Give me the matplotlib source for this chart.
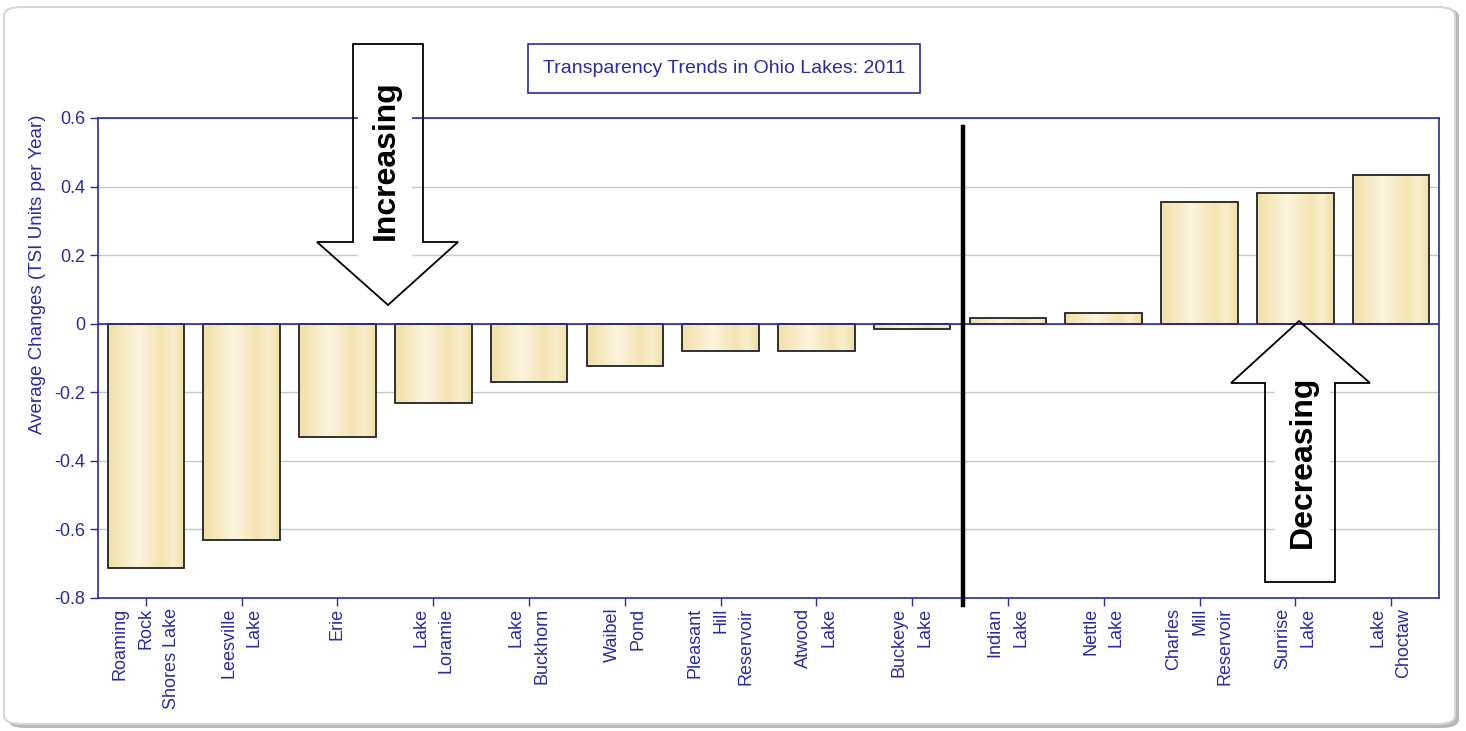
import numpy as np
import matplotlib
matplotlib.use("Agg")
import matplotlib.pyplot as plt
from matplotlib.patches import Polygon, Rectangle, FancyBboxPatch
from matplotlib.colors import LinearSegmentedColormap

plt.rcParams['font.family'] = ['Liberation Sans', 'DejaVu Sans']

# Data
lakes = ["Roaming\nRock\nShores Lake", "Leesville\nLake", "Erie", "Lake\nLoramie",
         "Lake\nBuckhorn", "Waibel\nPond", "Pleasant\nHill\nReservoir", "Atwood\nLake",
         "Buckeye\nLake", "Indian\nLake", "Nettle\nLake", "Charles\nMill\nReservoir",
         "Sunrise\nLake", "Lake\nChoctaw"]
values = [-0.712, -0.632, -0.33, -0.231, -0.17, -0.124, -0.08, -0.08,
          -0.015, 0.016, 0.032, 0.355, 0.382, 0.435]
yticks = [-0.8, -0.6, -0.4, -0.2, 0, 0.2, 0.4, 0.6]
ytick_labels = ["-0.8", "-0.6", "-0.4", "-0.2", "0", "0.2", "0.4", "0.6"]

W, H = 1466, 731
blue = '#2a2aa6'

def fx(x):
    return x / W

def fy(y):
    return 1 - y / H

fig = plt.figure(figsize=(W / 100, H / 100), dpi=100, facecolor='white')

# outer rounded frame with a soft shadow
shadow = FancyBboxPatch((fx(8), fy(728)), fx(1451), 720 / H,
                        boxstyle="round,pad=0,rounding_size=0.012",
                        transform=fig.transFigure, facecolor='#b8b8b8',
                        edgecolor='none', zorder=-3)
frame = FancyBboxPatch((fx(4), fy(724)), fx(1451), 717 / H,
                       boxstyle="round,pad=0,rounding_size=0.012",
                       transform=fig.transFigure, facecolor='white',
                       edgecolor='#d6d6d6', lw=1.5, zorder=-2)
fig.patches.extend([shadow, frame])

ax = fig.add_axes([fx(98), fy(598), fx(1439 - 98), 480 / H])
ax.set_facecolor('none')

x = np.arange(len(lakes))
bars = ax.bar(x, values, width=0.8, facecolor='none', edgecolor='#222222',
              linewidth=1.3, zorder=3)

# cylinder-like yellow gradient inside each bar
cmap = LinearSegmentedColormap.from_list(
    'bar', [(0, '#f1dfa6'), (0.4, '#fbf5de'), (0.7, '#f3e4b2'),
            (0.85, '#f8efcd'), (1, '#f0dda4')])
grad = np.linspace(0, 1, 256).reshape(1, -1)
for b in bars:
    x0, y0 = b.get_x(), b.get_y()
    w, h = b.get_width(), b.get_height()
    im = ax.imshow(grad, cmap=cmap, aspect='auto', zorder=2,
                   extent=[x0, x0 + w, min(y0, y0 + h), max(y0, y0 + h)])
    im.set_clip_path(b)

ax.set_xlim(-0.5, len(lakes) - 0.5)
ax.set_ylim(-0.8, 0.6)
ax.set_yticks(yticks)
ax.set_yticklabels(ytick_labels)
ax.set_xticks(x)
ax.set_xticklabels(lakes, rotation=90, ha='center', va='top',
                   multialignment='right', linespacing=1.65)
ax.tick_params(axis='both', colors=blue, labelcolor=blue, labelsize=13,
               direction='out', length=6, width=1)
ax.tick_params(axis='x', pad=1)
ax.tick_params(axis='y', pad=3)
ax.yaxis.grid(True, color='#c8c8c8', linewidth=1)
ax.set_axisbelow(True)
ax.axhline(0, color=blue, linewidth=1.2, zorder=4)
for s in ax.spines.values():
    s.set_color(blue)
    s.set_linewidth(1.2)

# divider between increasing and decreasing lakes
ax.plot([8.53, 8.53], [0.574, -0.82], color='black', linewidth=3.2,
        clip_on=False, zorder=5)

fig.text(fx(38), fy(274), "Average Changes (TSI Units per Year)", rotation=90,
         ha='center', va='center', color=blue, fontsize=13.5)

# title box
fig.patches.append(Rectangle((fx(528), fy(93)), fx(392), 49 / H,
                             transform=fig.transFigure, facecolor='white',
                             edgecolor=blue, lw=1.2, zorder=2))
fig.text(fx(724), fy(68.5), "Transparency Trends in Ohio Lakes: 2011",
         ha='center', va='center', color=blue, fontsize=14, zorder=3)

# annotation arrows
inc = [(353, 44), (423, 44), (423, 242), (458, 242), (388, 305), (317, 242), (353, 242)]
dec = [(1299, 321), (1370, 383), (1335, 383), (1335, 582), (1265, 582), (1265, 383), (1231, 383)]
for pts in (inc, dec):
    fig.patches.append(Polygon([(fx(a), fy(b)) for a, b in pts], closed=True,
                               transform=fig.transFigure, facecolor='none',
                               edgecolor='black', lw=1.3, zorder=3))
fig.patches.append(Rectangle((fx(358), fy(260)), fx(54), 190 / H,
                             transform=fig.transFigure, facecolor='white',
                             edgecolor='none', zorder=2.5))
fig.patches.append(Rectangle((fx(1275), fy(560)), fx(55), 200 / H,
                             transform=fig.transFigure, facecolor='white',
                             edgecolor='none', zorder=2.5))
fig.text(fx(386), fy(160), "Increasing", rotation=90, ha='center', va='center',
         fontsize=23, fontweight='bold', color='black', zorder=4)
fig.text(fx(1303), fy(462), "Decreasing", rotation=90, ha='center', va='center',
         fontsize=23, fontweight='bold', color='black', zorder=4)

fig.savefig('out.png', dpi=100, facecolor='white')
